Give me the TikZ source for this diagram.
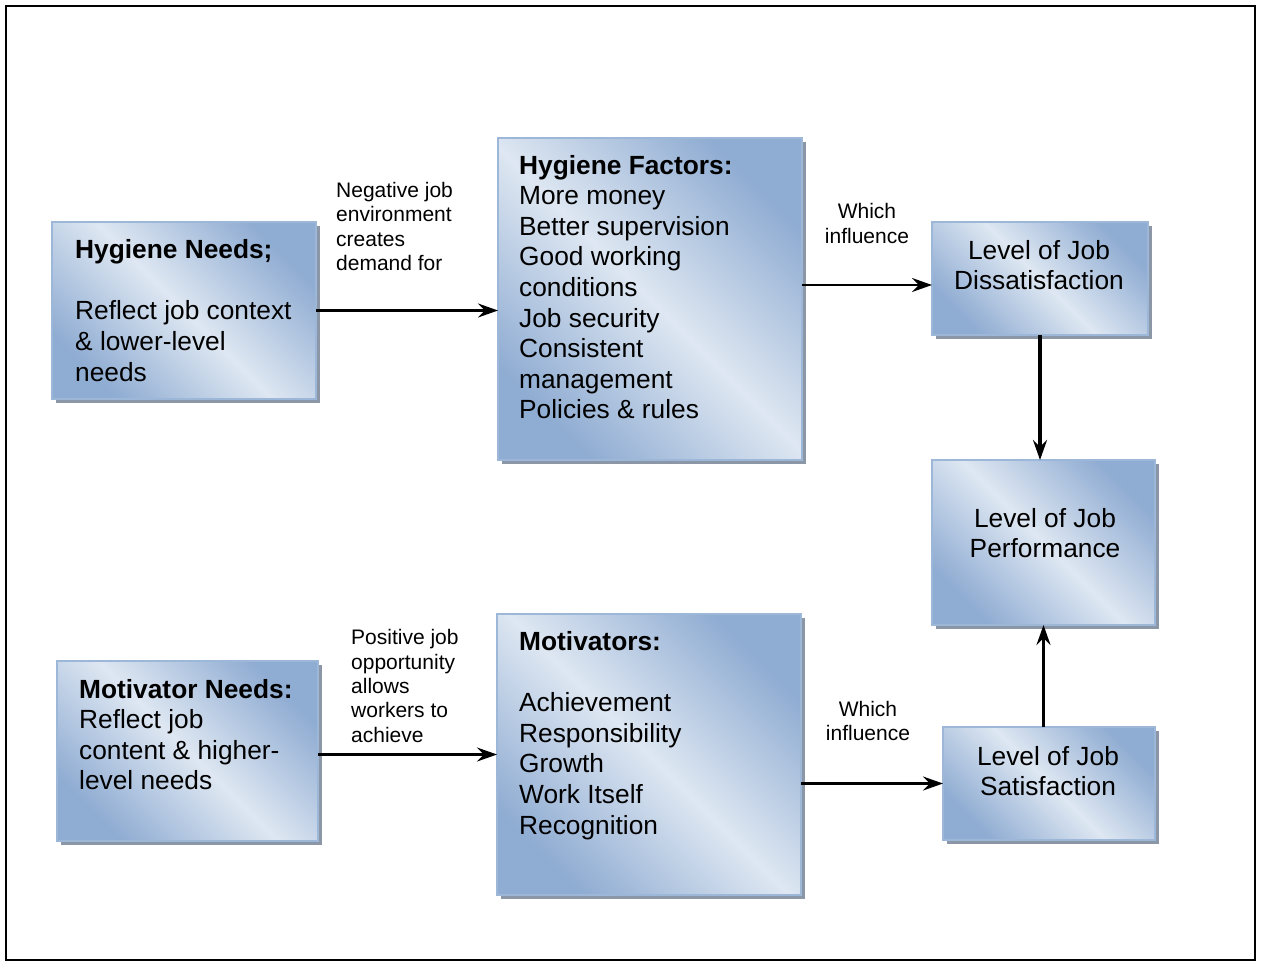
\documentclass[tikz,border=0pt]{standalone}
\usepackage{fontspec}
\setmainfont{Liberation Sans}
\usetikzlibrary{arrows.meta,calc}
\definecolor{boxdark}{RGB}{143,172,210}
\definecolor{boxlight}{RGB}{222,231,242}
\definecolor{boxedge}{RGB}{157,183,217}
\definecolor{boxshadow}{RGB}{139,150,166}
\begin{document}
\begin{tikzpicture}[x=1pt,y=-1pt,
  box/.style={draw=boxedge, line width=1.5pt, anchor=north west,
    inner sep=0pt, outer sep=0pt,
    top color=boxdark, bottom color=boxdark, middle color=boxlight,
    shading angle=-45,
    preaction={fill=boxshadow, transform canvas={shift={(4pt,-4pt)}}}},
  btxt/.style={inner sep=0pt, align=left, anchor=west,
    font=\fontsize{26.3}{30.6}\selectfont},
  ctxt/.style={inner sep=0pt, align=center, anchor=center,
    font=\fontsize{26.3}{30.6}\selectfont},
  ltxt/.style={inner sep=0pt, align=left, anchor=west,
    font=\fontsize{21}{24.4}\selectfont},
  lctxt/.style={inner sep=0pt, align=center, anchor=center,
    font=\fontsize{21}{24.4}\selectfont},
  arr/.style={line width=2.6pt, -{Stealth[length=20pt,width=14pt,inset=7pt]}},
  varr/.style={arr, line width=3.2pt}
]
\useasboundingbox (0,0) rectangle (1261,961);
% outer frame
\draw[line width=2pt] (6,6) rectangle (1255,960);

% boxes
\node[box, minimum width=264pt, minimum height=177pt] (hn)   at (52,222)  {};
\node[box, minimum width=304pt, minimum height=322pt] (hf)   at (498,138) {};
\node[box, minimum width=216pt, minimum height=113pt] (dis)  at (932,222) {};
\node[box, minimum width=223pt, minimum height=165pt] (perf) at (932,460) {};
\node[box, minimum width=261pt, minimum height=180pt] (mn)   at (57,661)  {};
\node[box, minimum width=304pt, minimum height=281pt] (mo)   at (497,614) {};
\node[box, minimum width=212pt, minimum height=113pt] (sat)  at (943,727) {};

% box texts
\node[btxt] (hnt) at (75,310.5)
  {\textbf{Hygiene Needs;}\\[30.6pt]Reflect job context\\\& lower-level\\needs};
\node[btxt] (hft) at (519,287)
  {\textbf{Hygiene Factors:}\\More money\\Better supervision\\Good working\\conditions\\Job security\\Consistent\\management\\Policies \& rules};
\node[ctxt] (dist) at (1039,265) {Level of Job\\Dissatisfaction};
\node[ctxt] (perft) at (1045,533) {Level of Job\\Performance};
\node[btxt] (mnt) at (79,734.5)
  {\textbf{Motivator Needs:}\\Reflect job\\content \& higher-\\level needs};
\node[btxt] (mot) at (519,735.5)
  {\textbf{Motivators:}\\[30.6pt]Achievement\\Responsibility\\Growth\\Work Itself\\Recognition};
\node[ctxt] (satt) at (1048,771) {Level of Job\\Satisfaction};

% connector labels
\node[ltxt] (l1) at (336,226.5) {Negative job\\environment\\creates\\demand for};
\node[lctxt] (l2) at (867,223.5) {Which\\influence};
\node[ltxt] (l3) at (351,686) {Positive job\\opportunity\\allows\\workers to\\achieve};
\node[lctxt] (l4) at (868,721) {Which\\influence};

% connectors
\coordinate (a2) at ([yshift=-6.5pt]dis.west);
\draw[arr] (hn.east) -- (hn.east -| hf.west);
\draw[arr] (hf.east |- a2) -- (a2);
\draw[arr] (mo.west -| mn.east) -- (mo.west);
\draw[arr] (sat.west -| mo.east) -- (sat.west);
\draw[varr] (dis.south) -- (dis.south |- perf.north);
\draw[varr] (perf.south |- sat.north) -- (perf.south);
\end{tikzpicture}
\end{document}
